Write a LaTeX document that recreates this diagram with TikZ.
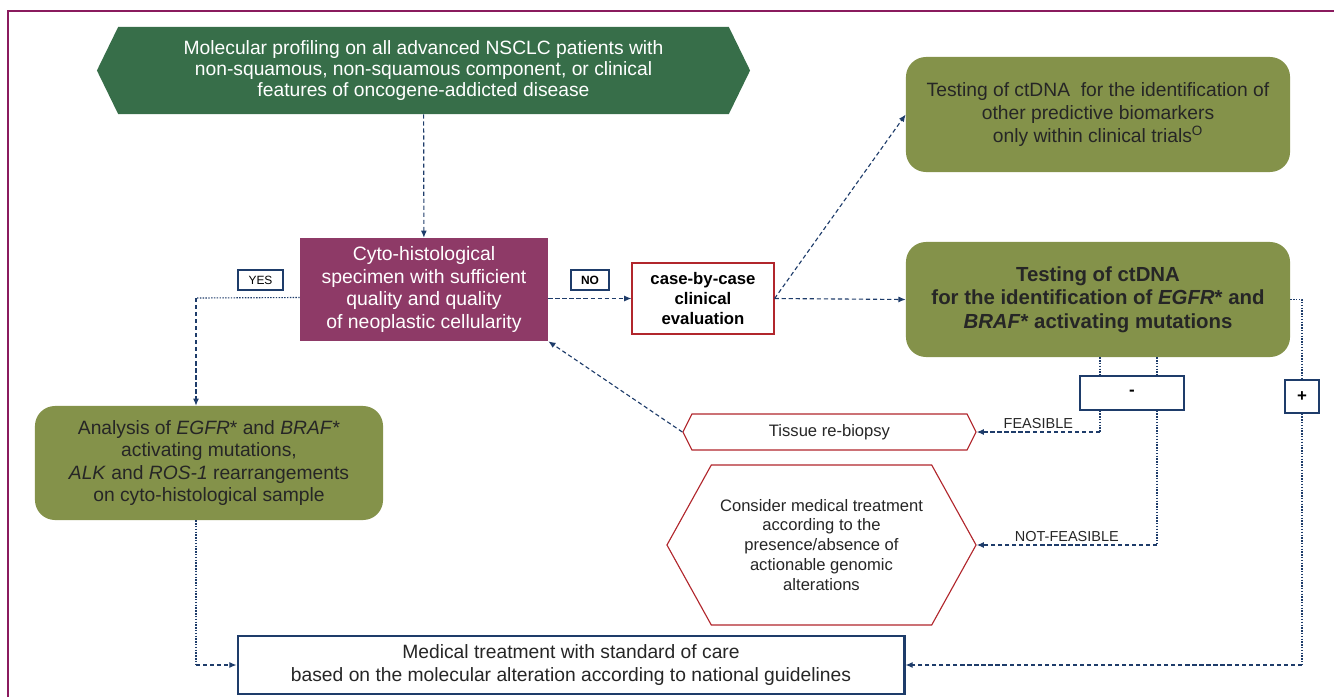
\documentclass[tikz,border=0pt]{standalone}
\usepackage{fontspec}
\setmainfont{Liberation Sans}
\usetikzlibrary{positioning, shapes.symbols, arrows.meta}
\definecolor{framered}{HTML}{8A1B5E}
\definecolor{headgreen}{HTML}{376E49}
\definecolor{olive}{HTML}{84924A}
\definecolor{plum}{HTML}{8E3A67}
\definecolor{caseRed}{HTML}{B1262C}
\definecolor{navy}{HTML}{1E3C6A}
\tikzset{lineart/.style={navy, line width=0.8pt}}

\begin{document}
\begin{tikzpicture}[
      x=0.025cm, y=-0.025cm,
      every node/.style={align=center, inner sep=2pt},
      head/.style={signal, signal to=west and east, signal pointer angle=128,
                   fill=headgreen, text=white, minimum width=16.325cm,
                   minimum height=2.175cm, font=\fontsize{13.7}{15}\selectfont},
      specimen/.style={fill=plum, text=white, minimum width=6.2cm,
                       minimum height=2.575cm, font=\fontsize{13.8}{16}\selectfont},
      answer/.style={draw=navy, line width=1pt, fill=white, minimum height=0.5cm,
                     inner sep=1pt, font=\fontsize{8.5}{9}\selectfont},
      decide/.style={draw=caseRed, line width=0.8pt, fill=white, minimum width=3.55cm,
                     minimum height=1.775cm, font=\bfseries\fontsize{11.9}{14}\selectfont},
      olivebox/.style={fill=olive, rounded corners=0.5cm, text=black!85,
                       minimum width=9.6cm, minimum height=2.875cm,
                       font=\fontsize{13.7}{16.5}\selectfont},
      signbox/.style={draw=navy, line width=0.8pt, fill=white,
                      font=\bfseries\fontsize{12}{12}\selectfont},
      hexa/.style={signal, signal to=west and east, draw=caseRed, line width=0.8pt,
                   fill=white, text=black!85, font=\fontsize{11.8}{14.2}\selectfont},
      carebox/.style={draw=navy, line width=2pt, fill=white, text=black!85,
                      minimum width=16.65cm, minimum height=1.45cm,
                      font=\fontsize{13.7}{16.3}\selectfont},
      lbl/.style={text=black!85, inner sep=2pt, font=\fontsize{10.3}{11}\selectfont},
      dashline/.style={lineart, dash pattern=on 3pt off 2pt},
      dotline/.style={lineart, dash pattern=on 1pt off 1pt},
      arrow/.style={-{Latex[length=1.8mm, width=1.5mm]}},
  ]
    \useasboundingbox (0,0) rectangle (1334,697);
    \draw[framered, line width=1.5pt] (8,697) -- (8,11) -- (1334,11);

    %% --- Entry and specimen check ---
    \node[head] (profiling) at (423.5,70.5) {Molecular profiling on all advanced NSCLC patients with\\
      non-squamous, non-squamous component, or clinical\\
      features of oncogene-addicted disease};
    \node[specimen] (specimen) at (424,289.5) {Cyto-histological\\specimen with sufficient\\
      quality and quality\\of neoplastic cellularity};
    \node[answer, minimum width=1.125cm] (yes) at (260.5,280) {YES};
    \node[answer, minimum width=0.95cm, font=\bfseries\fontsize{8.5}{9}\selectfont] (no) at (590,280) {NO};
    \node[decide] (case) at (703,298.5) {case-by-case\\clinical\\evaluation};

    %% --- ctDNA testing ---
    \node[olivebox] (trials) at (1098,114.5) {Testing of ctDNA~ for the identification of\\
      other predictive biomarkers\\only within clinical trials\textsuperscript{O}};
    \node[olivebox, font=\bfseries\fontsize{14.5}{16.8}\selectfont] (ctdna) at (1098,299.5) {Testing of ctDNA\\
      for the identification of \textit{EGFR}* and\\\textit{BRAF}* activating mutations};
    \node[signbox, minimum width=2.6cm, minimum height=0.85cm] (minus) at (1132,393) {-};
    \node[signbox, minimum width=0.85cm, minimum height=0.825cm] (plus) at (1302,396.5) {+};

    %% --- Outcomes ---
    \node[hexa, signal pointer angle=127, minimum width=7.325cm, minimum height=0.9cm]
      (rebiopsy) at (829.5,432) {Tissue re-biopsy};
    \node[hexa, signal pointer angle=122, minimum width=7.725cm, minimum height=4cm]
      (consider) at (821.5,545) {Consider medical treatment\\according to the\\
      presence/absence of\\actionable genomic\\alterations};
    \node[olivebox, minimum width=8.7cm, minimum height=2.85cm, font=\fontsize{13.7}{15.8}\selectfont]
      (analysis) at (209,463) {Analysis of \textit{EGFR}* and \textit{BRAF}*\\activating mutations,\\
      \textit{ALK} and \textit{ROS-1} rearrangements\\on cyto-histological sample};
    \node[carebox] (care) at (571,665) {Medical treatment with standard of care\\
      based on the molecular alteration according to national guidelines};

    %% --- Corners ---
    \coordinate (yesturn) at (196,298);
    \coordinate (feasturn) at (1100,432);
    \coordinate (notturn) at (1157,545);
    \coordinate (plusturn) at (1302,665);
    \coordinate (sampleturn) at (196,665);

    %% --- Connectors ---
    \draw[dashline, arrow] (profiling) -- (specimen);
    \draw[dotline] ([yshift=-2mm]specimen.west) -- (yesturn);
    \draw[dashline, arrow] (yesturn) -- (yesturn |- analysis.north);
    \draw[dashline, arrow] (specimen.east |- case.west) -- (case.west);
    \draw[dashline, arrow] (case.east) -- (trials.west);
    \draw[dashline, arrow] (case.east) -- (ctdna.west);
    \draw[dotline] (ctdna.south -| feasturn) -- (minus.north -| feasturn);
    \draw[dotline] (ctdna.south -| notturn) -- (minus.north -| notturn);
    \draw[dotline] (minus.south -| feasturn) -- (feasturn);
    \draw[dashline, arrow] (feasturn) -- (rebiopsy.east) node[lbl, above, midway] {FEASIBLE};
    \draw[dotline] (minus.south -| notturn) -- (notturn);
    \draw[dashline, arrow] (notturn) -- (consider.east) node[lbl, above, midway] {NOT-FEASIBLE};
    \draw[dotline] (ctdna.east) -| (plus.north);
    \draw[dotline] (plus.south) -- (plusturn);
    \draw[dashline, arrow] (plusturn) -- (care.east);
    \draw[dashline, arrow] (rebiopsy.west) -- (specimen.south east);
    \draw[dotline] (analysis.south -| sampleturn) -- (sampleturn);
    \draw[dashline, arrow] (sampleturn) -- (care.west);
  \end{tikzpicture}
\end{document}
